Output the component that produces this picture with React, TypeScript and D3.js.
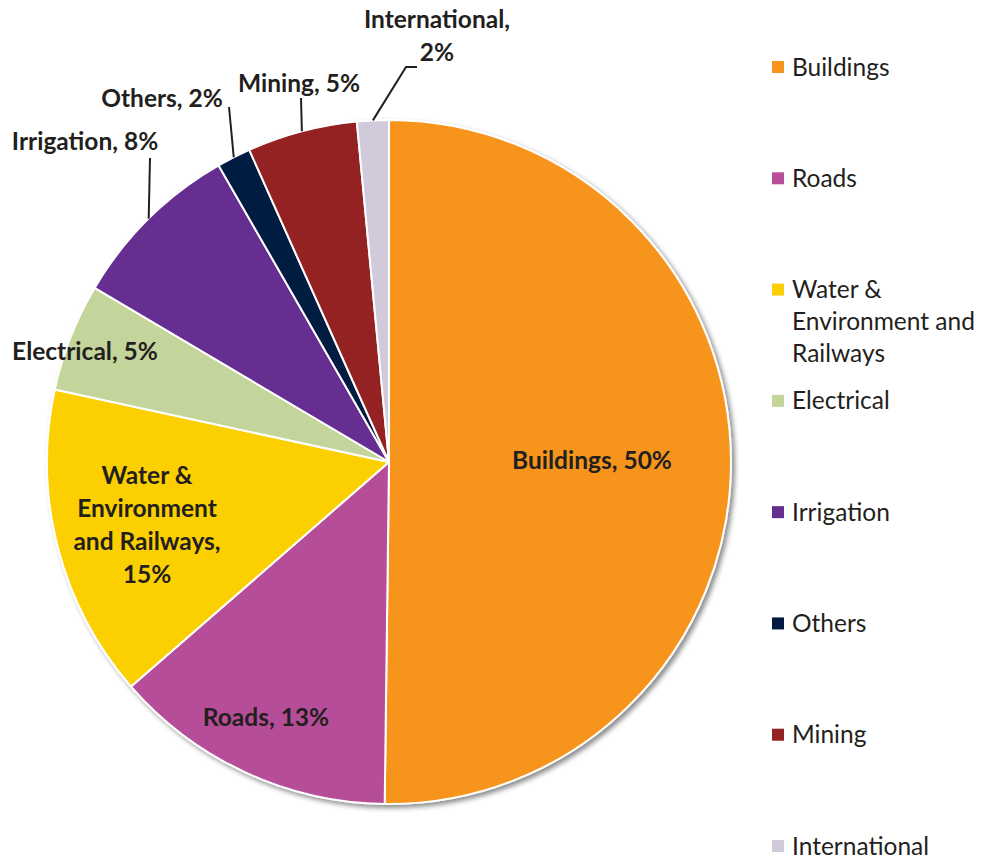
import React from "react";
import * as d3 from "d3";

const categories = ["Buildings", "Roads", "Water & Environment and Railways", "Electrical", "Irrigation", "Others", "Mining", "International"];
const values = [50.2, 13.4, 14.8, 5.1, 8.2, 1.6, 5.2, 1.5];
const percentLabels = ["50%", "13%", "15%", "5%", "8%", "2%", "5%", "2%"];
const colors = ["#F7941D", "#B64E98", "#FCCF04", "#C3D59A", "#662D91", "#021A40", "#942222", "#D0CADB"];

// label text lines (display only)
const sliceLabelLines = [
  ["Buildings, 50%"],
  ["Roads, 13%"],
  ["Water &", "Environment", "and Railways,", "15%"],
  ["Electrical, 5%"],
  ["Irrigation, 8%"],
  ["Others, 2%"],
  ["Mining, 5%"],
  ["International,", "2%"],
];
const legendLines = [
  ["Buildings"],
  ["Roads"],
  ["Water &", "Environment and", "Railways"],
  ["Electrical"],
  ["Irrigation"],
  ["Others"],
  ["Mining"],
  ["International"],
];

// layout
const W = 982, H = 859;
const cx = 389, cy = 462, R = 342;
const labelOffsets: [number, number][] = [
  [203, -2], [-123, 255], [-242, 63], [-304, -111],
  [-304, -321], [-227, -364], [-90, -379], [48, -426],
];
const leaderEnds: ([number, number][] | null)[] = [
  null, null, null, null,
  [[-239, -304]],
  [[-160, -355]],
  [[-88, -364]],
  [[17, -395], [28, -395]],
];
const lineH = 33;
const FONT = "Lato, 'Open Sans', sans-serif";

export default function App() {
  const pie = d3.pie<number>().sort(null).value((d) => d).startAngle(0).endAngle(2 * Math.PI);
  const arcs = pie(values);
  const arc = d3.arc<d3.PieArcDatum<number>>().innerRadius(0).outerRadius(R);
  const legendY = d3.scalePoint<number>().domain(d3.range(categories.length)).range([67, 846]);

  return (
    <svg width={W} height={H} style={{ position: "absolute", left: 0, top: 0, background: "#fff" }} fontFamily={FONT}>
      <defs>
        <filter id="sh" x="-10%" y="-10%" width="120%" height="120%">
          <feDropShadow dx="3" dy="3" stdDeviation="2.5" floodColor="#000" floodOpacity="0.45" />
        </filter>
      </defs>
      <g transform={`translate(${cx},${cy})`}>
        <g filter="url(#sh)">
          {arcs.map((a, i) => (
            <path key={categories[i]} d={arc(a) || ""} fill={colors[i]} stroke="#fff" strokeWidth={2} strokeLinejoin="round" />
          ))}
        </g>
        {arcs.map((a, i) => {
          const ends = leaderEnds[i];
          if (!ends) return null;
          const mid = (a.startAngle + a.endAngle) / 2;
          const sx = R * Math.sin(mid), sy = -R * Math.cos(mid);
          const pts: [number, number][] = [[sx, sy], ...ends];
          return <path key={"l" + i} d={d3.line()(pts) || ""} fill="none" stroke="#231F20" strokeWidth={2} />;
        })}
        {arcs.map((a, i) => {
          const [lx, ly] = labelOffsets[i];
          const lines = sliceLabelLines[i];
          const y0 = ly - ((lines.length - 1) * lineH) / 2;
          return (
            <text key={"t" + i} textAnchor="middle" fontSize={24.5} fontWeight="bold" fill="#231F20">
              {lines.map((ln, j) => (
                <tspan key={j} x={lx} y={y0 + j * lineH} dy="0.35em">{ln}</tspan>
              ))}
            </text>
          );
        })}
      </g>
      <g>
        {categories.map((c, i) => {
          const y = legendY(i) as number;
          return (
            <g key={"lg" + i}>
              <rect x={772} y={y - 6} width={12} height={12} fill={colors[i]} />
              <text fontSize={24.5} fill="#231F20">
                {legendLines[i].map((ln, j) => (
                  <tspan key={j} x={792} y={y + j * 32} dy="0.35em">{ln}</tspan>
                ))}
              </text>
            </g>
          );
        })}
      </g>
    </svg>
  );
}
